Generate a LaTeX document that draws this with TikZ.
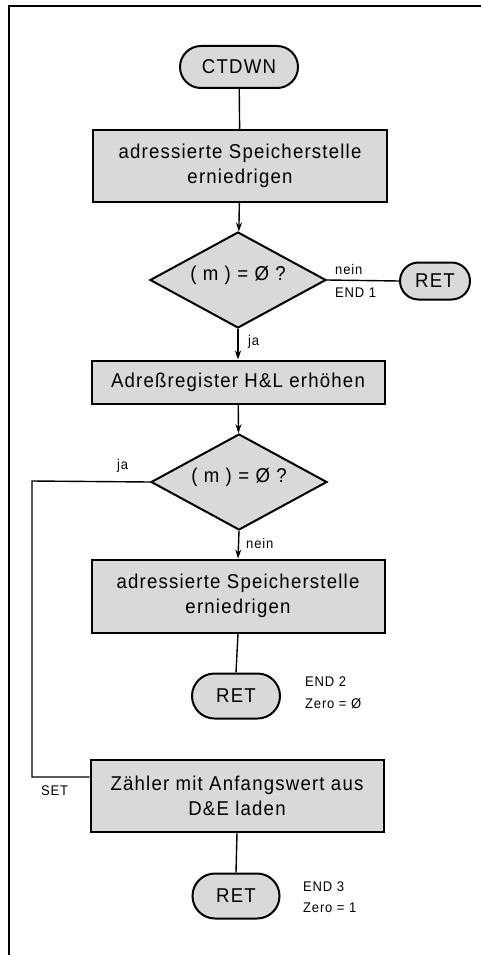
\documentclass[tikz,border=0pt]{standalone}
\usepackage{fontspec}
\setmainfont{Liberation Sans}[FakeStretch=0.93,LetterSpace=6]
\usetikzlibrary{shapes.geometric,shapes.misc,arrows.meta}
\begin{document}
\begin{tikzpicture}[x=1pt,y=-1pt,
  every node/.style={font=\fontsize{20}{25}\selectfont},
  proc/.style={draw,line width=2pt,fill=gray!30,rectangle,inner sep=0pt,align=center},
  term/.style={draw,line width=2pt,fill=gray!30,rounded rectangle,inner sep=0pt},
  dec/.style={draw,line width=2pt,fill=gray!30,diamond,inner sep=0pt,minimum width=176pt,minimum height=96pt},
  conn/.style={line width=1.4pt},
  arr/.style={conn,-{Stealth[length=9pt,width=6pt]}},
  lbl/.style={font=\fontsize{14}{17}\selectfont,inner sep=0pt,anchor=west,align=left}]
\useasboundingbox (0,0) rectangle (481,955);
\fill[white] (0,0) rectangle (481,955);
\draw[line width=2.4pt] (9,955) -- (9,6) -- (481,6);

\node[term,minimum width=118pt,minimum height=42pt] (ctdwn) at (239,67) {CTDWN};
\node[proc,minimum width=294pt,minimum height=72pt] (b1) at (240,166) {adressierte Speicherstelle\\erniedrigen};
\node[dec] (d1) at (238,280) {\smash{\makebox[0pt]{( m ) = Ø ?}}};
\node[term,minimum width=70pt,minimum height=37pt] (ret1) at (435,281) {RET};
\node[proc,minimum width=293pt,minimum height=43pt] (b2) at (238,382) {Adreßregister H\&L erhöhen};
\node[dec] (d2) at (239,482) {\smash{\makebox[0pt]{( m ) = Ø ?}}};
\node[proc,minimum width=293pt,minimum height=73pt] (b3) at (238,596) {adressierte Speicherstelle\\erniedrigen};
\node[term,minimum width=88pt,minimum height=45pt] (ret2) at (236,696) {RET};
\node[proc,minimum width=293pt,minimum height=72pt] (b4) at (237,796) {Zähler mit Anfangswert aus\\D\&E laden};
\node[term,minimum width=87pt,minimum height=45pt] (ret3) at (236,896) {RET};

\coordinate (c1) at (32,481);
\coordinate (c2) at (32,777);

\draw[conn] (ctdwn) -- (b1);
\draw[arr] (b1) -- (d1);
\draw[conn] (d1.east) -- (ret1.west);
\draw[arr] (d1.south) -- (b2.north);
\draw[arr] (b2) -- (d2);
\draw[arr] (d2.south) -- (b3.north);
\draw[conn] (b3.south) -- (ret2.north);
\draw[conn] (d2.west) -- (c1) -- (c2) -- (c2 -| b4.west);
\draw[conn] (b4.south) -- (ret3.north);

\node[lbl] (l1) at (335,269) {nein};
\node[lbl] (l2) at (335,293) {END 1};
\node[lbl] (l3) at (248,342) {ja};
\node[lbl] (l4) at (117,466) {ja};
\node[lbl] (l5) at (246,543) {nein};
\node[lbl] (l6) at (305,682) {END 2};
\node[lbl] (l7) at (305,704) {Zero = Ø};
\node[lbl] (l8) at (41,791) {SET};
\node[lbl] (l9) at (303,887) {END 3};
\node[lbl] (l10) at (303,908) {Zero = 1};
\end{tikzpicture}
\end{document}
